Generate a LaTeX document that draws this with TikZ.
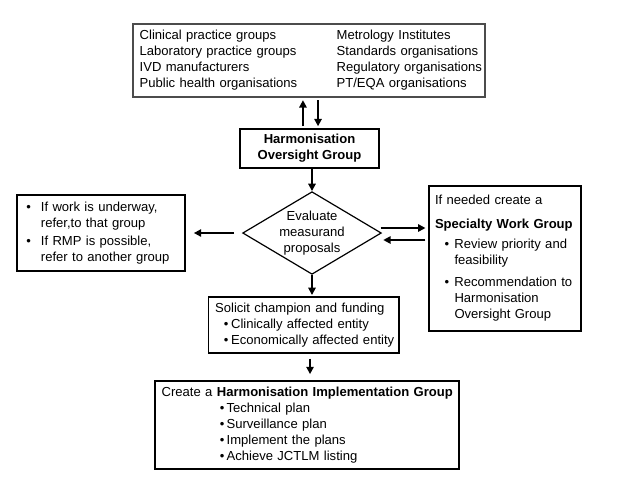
\documentclass[tikz,border=0pt]{standalone}
\usepackage{fontspec}
\setmainfont{Liberation Sans}
\usetikzlibrary{shapes.geometric, arrows.meta, positioning}
\setlength{\parindent}{0pt}
\tikzset{
    block/.style={rectangle, draw=black, line width=1pt, fill=white, font=\fontsize{9.8}{12}\selectfont, inner xsep=5pt, inner ysep=0pt, align=left},
    decision/.style={diamond, draw=black, line width=0.9pt, inner sep=0pt, minimum width=104pt, minimum height=62pt},
    plain/.style={font=\fontsize{9.8}{12}\selectfont, inner sep=0pt, align=center},
    arrow/.style={line width=1.3pt, -{Triangle[length=5.5pt,width=5.5pt]}}
}

\begin{document}
\begin{tikzpicture}[x=0.75pt, y=-0.75pt]
    \useasboundingbox (0,0) rectangle (640,480);

    \node (members) [block, draw=black!70, line width=0.8pt, text width=254pt, minimum height=54.75pt] at (309,60.5) {%
        \begin{tabular}{@{}p{147.75pt}@{}l@{}}
        Clinical practice groups & Metrology Institutes\\
        Laboratory practice groups & Standards organisations\\
        IVD manufacturers & Regulatory organisations\\
        Public health organisations & PT/EQA organisations
        \end{tabular}};
    \node (hog) [block, line width=1.4pt, align=center, minimum width=104pt, minimum height=29pt, font=\fontsize{9.8}{12}\selectfont\bfseries] at (309.5,148.5) {Harmonisation\\Oversight Group};

    \node (eval) [decision] at (312,233) {};
    \node (evaltext) [plain] at (eval.center) {Evaluate\\measurand\\proposals};

    \node (refer) [block, line width=1.3pt, inner xsep=7pt, text width=112pt, minimum height=57pt] at (101,233) {%
        \begin{tabular}{@{}l@{\hspace{7.5pt}}l@{}}
        \textbullet & If work is underway,\\
                    & refer,to that group\\[1.5pt]
        \textbullet & If RMP is possible,\\
                    & refer to another group
        \end{tabular}};

    \node (swg) [block, line width=1.3pt, inner xsep=4.5pt, text width=105pt, minimum height=108.75pt] at (505,258.5) {%
        \begin{tabular}{@{\hspace{7.3pt}}l@{\hspace{3.9pt}}l@{}}
        \multicolumn{2}{@{}l@{}}{If needed create a}\\[6pt]
        \multicolumn{2}{@{}l@{}}{\textbf{Specialty Work Group}}\\[3pt]
        \textbullet & Review priority and\\
                    & feasibility\\[4.5pt]
        \textbullet & Recommendation to\\
                    & Harmonisation\\
                    & Oversight Group
        \end{tabular}};

    \node (solicit) [block, inner xsep=5.25pt, text width=132.5pt, minimum height=42pt] at (303.5,325) {%
        \begin{tabular}{@{\hspace{6.5pt}}l@{\hspace{2pt}}l@{}}
        \multicolumn{2}{@{}l@{}}{Solicit champion and funding}\\
        \textbullet & Clinically affected entity\\
        \textbullet & Economically affected entity
        \end{tabular}};

    \node (impl) [block, line width=1.3pt, text width=218pt, minimum height=66pt] at (307,425) {%
        \begin{tabular}{@{\hspace{43.6pt}}l@{\hspace{1.7pt}}l@{}}
        \multicolumn{2}{@{}l@{}}{Create a \textbf{Harmonisation Implementation Group}}\\
        \textbullet & Technical plan\\
        \textbullet & Surveillance plan\\
        \textbullet & Implement the plans\\
        \textbullet & Achieve JCTLM listing
        \end{tabular}};

    % connectors
    \draw [arrow, shorten <=1.5pt, shorten >=2pt] ([xshift=-4.9pt]hog.north) -- ([xshift=-4.9pt]hog.north |- members.south);
    \draw [arrow, shorten <=2pt, shorten >=1.5pt] ([xshift=6.4pt]hog.north |- members.south) -- ([xshift=6.4pt]hog.north);
    \draw [arrow] (hog.south -| eval.north) -- (eval.north);
    \draw [arrow, shorten <=6pt, shorten >=6pt] (eval.west) -- (refer.east);
    \draw [arrow, shorten <=-1pt, shorten >=2pt] ([yshift=3.75pt]eval.east) -- ([yshift=3.75pt]eval.east -| swg.west);
    \draw [arrow, shorten <=2pt, shorten >=1pt] ([yshift=-5.25pt]eval.east -| swg.west) -- ([yshift=-5.25pt]eval.east);
    \draw [arrow, shorten >=1pt] (eval.south) -- (eval.south |- solicit.north);
    \draw [arrow, shorten <=3.75pt, shorten >=4.5pt] ([xshift=4.9pt]solicit.south) -- ([xshift=4.9pt]solicit.south |- impl.north);
\end{tikzpicture}
\end{document}
